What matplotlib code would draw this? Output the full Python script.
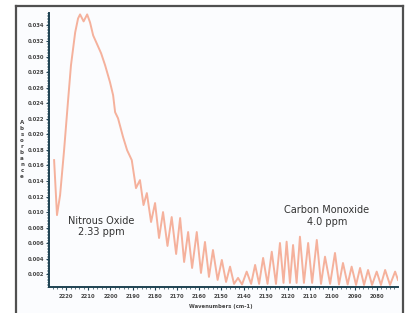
import numpy as np
import matplotlib.pyplot as plt
from matplotlib.lines import Line2D
from matplotlib.patches import Rectangle
from matplotlib.ticker import MultipleLocator, FormatStrFormatter

# spectrum (peaks and troughs)
wavenumber = [2225.4, 2224.1, 2222.7, 2220.9, 2219.1, 2217.8, 2215.9, 2214.6, 2213.7, 2212.1,
              2210.5, 2209.2, 2207.8, 2206.0, 2204.2, 2202.4, 2200.2, 2198.8, 2197.9, 2196.6,
              2194.3, 2192.5, 2190.4, 2188.5, 2186.7, 2185.1, 2183.6, 2181.7, 2179.9, 2178.1,
              2176.3, 2174.3, 2172.4, 2170.4, 2168.6, 2166.8, 2165.0, 2163.2, 2161.1, 2159.2,
              2157.4, 2155.6, 2153.8, 2151.7, 2149.8, 2147.9, 2146.1, 2144.3, 2142.5, 2140.7,
              2138.6, 2136.6, 2134.8, 2133.0, 2131.2, 2129.2, 2127.3, 2125.4, 2123.6, 2122.0,
              2120.6, 2119.1, 2117.7, 2116.1, 2114.6, 2112.8, 2110.9, 2109.1, 2107.0, 2105.1,
              2103.3, 2101.0, 2098.8, 2097.0, 2095.2, 2093.1, 2091.3, 2089.3, 2087.5, 2085.7,
              2083.9, 2082.1, 2080.0, 2078.1, 2076.2, 2074.0, 2071.7, 2070.4]
absorbance = [0.01668, 0.00961, 0.01218, 0.01796, 0.02438, 0.02887, 0.03311, 0.03490, 0.03542, 0.03452,
              0.03542, 0.03439, 0.03272, 0.03157, 0.03041, 0.02887, 0.02669, 0.02502, 0.02284, 0.02207,
              0.01963, 0.01796, 0.01668, 0.01308, 0.01411, 0.01090, 0.01244, 0.00872, 0.01116, 0.00666,
              0.01000, 0.00564, 0.00936, 0.00461, 0.00923, 0.00358, 0.00743, 0.00281, 0.00743, 0.00217,
              0.00615, 0.00166, 0.00512, 0.00127, 0.00384, 0.00101, 0.00298, 0.00076, 0.00153, 0.00069,
              0.00234, 0.00076, 0.00320, 0.00076, 0.00410, 0.00076, 0.00490, 0.00076, 0.00602, 0.00089,
              0.00619, 0.00089, 0.00576, 0.00089, 0.00683, 0.00089, 0.00602, 0.00089, 0.00641, 0.00076,
              0.00426, 0.00076, 0.00474, 0.00069, 0.00345, 0.00069, 0.00298, 0.00063, 0.00281, 0.00063,
              0.00255, 0.00063, 0.00234, 0.00063, 0.00255, 0.00063, 0.00234, 0.00127]

yticks = np.arange(0.002, 0.0345, 0.002)
xticks = np.arange(2080, 2221, 10)

fig = plt.figure(figsize=(4.08, 3.13), dpi=100)

# outer frame
x0, x1, ytop = 16/408, 403/408, 1 - 6/313
fig.patches.append(Rectangle((x0, 0), x1 - x0, ytop, transform=fig.transFigure,
                             facecolor='#fbfcfe', edgecolor='none', zorder=-10))
for xs, ys in [([x0, x1], [ytop, ytop]), ([x0, x0], [0, ytop]), ([x1, x1], [0, ytop])]:
    fig.lines.append(Line2D(xs, ys, transform=fig.transFigure, color='#505050', lw=1.6, zorder=-5))

ax = fig.add_axes([49/408, 26.3/313, 349/408, 273.7/313])
ax.patch.set_alpha(0)
ax.set_zorder(2)

ax.plot(wavenumber, absorbance, color='#f5b19c', lw=1.4, solid_joinstyle='round')

ax.set_xlim(2227.7, 2070.4)
ax.set_ylim(0.0004, 0.0356)

for s in ['top', 'right']:
    ax.spines[s].set_visible(False)
for s in ['left', 'bottom']:
    ax.spines[s].set_color('#1f4252')
    ax.spines[s].set_linewidth(1.4)

ax.set_yticks(yticks)
ax.yaxis.set_major_formatter(FormatStrFormatter('%.3f'))
ax.yaxis.set_minor_locator(MultipleLocator(0.0002))
ax.set_xticks(xticks)
ax.xaxis.set_minor_locator(MultipleLocator(2))

ax.tick_params(axis='both', which='major', direction='out', length=2.5, width=0.8,
               color='#1f4252', labelsize=3.8, labelcolor='#444444', pad=1)
ax.tick_params(axis='both', which='minor', direction='out', length=1.3, width=0.5,
               color='#1f4252')
ax.tick_params(axis='x', which='major', pad=3)
for lab in ax.get_xticklabels() + ax.get_yticklabels():
    lab.set_fontweight('bold')

fig.text(22/408, 1 - 149/313, '\n'.join('Absorbance'), fontsize=4, fontweight='bold',
         color='#444444', ha='center', va='center', linespacing=1.25)
fig.text(221/408, 1 - 306.7/313, 'Wavenumbers (cm-1)', fontsize=3.8, fontweight='bold',
         color='#444444', ha='center', va='center')

ax.text(2204.3, 0.0081, 'Nitrous Oxide\n2.33 ppm', fontsize=7, color='#333333',
        ha='center', va='center', linespacing=1.15)
ax.text(2102.5, 0.0095, 'Carbon Monoxide\n4.0 ppm', fontsize=7, color='#333333',
        ha='center', va='center', linespacing=1.15)

fig.savefig('out.png', dpi=100)
